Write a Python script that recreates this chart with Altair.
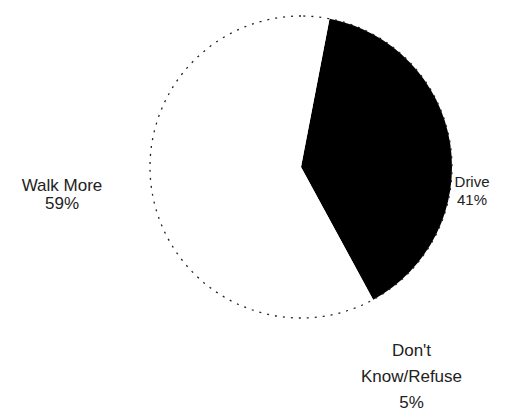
import math
import altair as alt
import pandas as pd

# Survey answers: would you drive or walk more?
categories = ["Drive", "Don't Know/Refuse", "Walk More"]
shares = [41, 5, 59]
names = ["Drive", "Don't\nKnow/Refuse", "Walk More"]
fills = ["#000000", "#ffffff", "#ffffff"]

df = pd.DataFrame({
    "category": categories,
    "share": shares,
    "name": names,
    "order": list(range(len(categories))),
})

start = 0.19  # first slice begins just past twelve o'clock
theta = alt.Theta("share:Q", stack=True, scale=alt.Scale(range=[start, start + 2 * math.pi]))
R = 151

base = alt.Chart(df).transform_calculate(
    label="datum.name + '\\n' + datum.share + '%'"
)

slices = base.mark_arc(outerRadius=R, stroke=None).encode(
    theta=theta,
    order=alt.Order("order:Q"),
    color=alt.Color("category:N", scale=alt.Scale(domain=categories, range=fills), legend=None),
)

# faint dotted rim around the whole pie
rim = alt.Chart(pd.DataFrame({"whole": [1]})).mark_arc(
    outerRadius=R, fill=None, stroke="#222222", strokeWidth=1.3, strokeDash=[2, 6]
).encode(theta=alt.Theta("whole:Q", scale=alt.Scale(range=[0, 2 * math.pi])))


def label_layer(cat, radius, dx, dy, line_height, size):
    return base.mark_text(
        radius=radius, dx=dx, dy=dy, font="Liberation Sans", fontSize=size,
        lineBreak="\n", lineHeight=line_height, color="#222222",
        align="center", baseline="middle",
    ).encode(
        theta=theta,
        order=alt.Order("order:Q"),
        text=alt.condition(f"datum.category == \"{cat}\"", alt.Text("label:N"), alt.value("")),
    )


labels = [
    label_layer("Drive", 165, 8, 40, 18, 15),
    label_layer("Walk More", 239, 0, 18, 18, 17),
    label_layer("Don't Know/Refuse", 180, 49, 15, 26, 17),
]

chart = alt.layer(slices, rim, *labels).resolve_scale(theta="independent").properties(
    width=302,
    height=302,
    padding={"left": 150, "top": 16, "right": 72, "bottom": 96},
    autosize=alt.AutoSizeParams(type="none"),
    background="white",
).configure_view(stroke=None)

chart.save("out.html", embed_options={"renderer": "svg", "actions": False})
